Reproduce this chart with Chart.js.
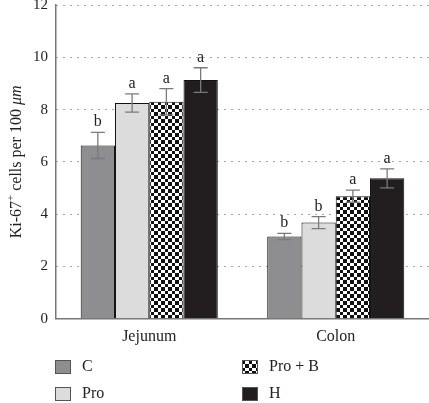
<!DOCTYPE html>
<html>
<head>
<meta charset="utf-8">
<script src="https://cdn.jsdelivr.net/npm/chart.js@4/dist/chart.umd.min.js"></script>
<style>
  body { margin: 0; background: #fff; }
  #wrap { width: 429px; height: 403px; }
</style>
</head>
<body>
<div id="wrap"><canvas id="chart" width="429" height="403"></canvas></div>
<script>
// Data
const categories = ['Jejunum', 'Colon'];
const seriesNames = ['C', 'Pro', 'Pro + B', 'H'];
const yTicks = [0, 2, 4, 6, 8, 10, 12];

const cValues = [6.63, 3.15];
const proValues = [8.25, 3.68];
const proBValues = [8.3, 4.69];
const hValues = [9.13, 5.37];

const cErrors = [0.5, 0.12];
const proErrors = [0.35, 0.23];
const proBErrors = [0.5, 0.23];
const hErrors = [0.47, 0.36];

const cLetters = ['b', 'b'];
const proLetters = ['a', 'b'];
const proBLetters = ['a', 'a'];
const hLetters = ['a', 'a'];

const FONT = '"Liberation Serif", "DejaVu Serif", serif';

// checkerboard fill for Pro + B
function makeChecker() {
    const c = document.createElement('canvas');
    c.width = 7;
    c.height = 7;
    const g = c.getContext('2d');
    g.fillStyle = '#fff';
    g.fillRect(0, 0, 7, 7);
    g.fillStyle = '#111';
    g.fillRect(0, 0, 4, 4);
    g.fillRect(4, 4, 3, 3);
    return g.createPattern(c, 'repeat');
}

const ctx = document.getElementById('chart').getContext('2d');
const checker = makeChecker();

const COLORS = ['#8e8e90', '#dcdcdc', checker, '#221e1f'];
const values = [cValues, proValues, proBValues, hValues];
const errors = [cErrors, proErrors, proBErrors, hErrors];
const letters = [cLetters, proLetters, proBLetters, hLetters];

const datasets = seriesNames.map((name, i) => ({
    label: name,
    data: values[i],
    backgroundColor: COLORS[i],
    borderColor: '#111',
    borderWidth: 1,
    barPercentage: 1,
    categoryPercentage: 0.735
}));

// error bars + significance letters
const errorBars = {
    id: 'errorBars',
    afterDatasetsDraw(chart) {
        const g = chart.ctx;
        const y = chart.scales.y;
        g.save();
        chart.data.datasets.forEach((ds, i) => {
            const meta = chart.getDatasetMeta(i);
            meta.data.forEach((bar, j) => {
                const v = ds.data[j];
                const e = errors[i][j];
                const top = y.getPixelForValue(v + e);
                const bot = y.getPixelForValue(v - e);
                g.strokeStyle = '#7a7a7a';
                g.lineWidth = 1.3;
                g.beginPath();
                g.moveTo(bar.x, top);
                g.lineTo(bar.x, bot);
                g.moveTo(bar.x - 7, top);
                g.lineTo(bar.x + 7, top);
                g.moveTo(bar.x - 7, bot);
                g.lineTo(bar.x + 7, bot);
                g.stroke();
                g.fillStyle = '#222';
                g.font = '16px ' + FONT;
                g.textAlign = 'center';
                g.textBaseline = 'alphabetic';
                g.fillText(letters[i][j], bar.x, top - 6);
            });
        });
        g.restore();
    }
};

// y title with italic unit + 2x2 legend at the bottom
const extras = {
    id: 'extras',
    afterDraw(chart) {
        const g = chart.ctx;
        const area = chart.chartArea;
        g.save();
        // y axis title
        g.translate(17, (area.top + area.bottom) / 2);
        g.rotate(-Math.PI / 2);
        g.fillStyle = '#222';
        g.textBaseline = 'middle';
        const parts = [
            { t: 'Ki-67', f: '16px ' + FONT, dy: 0 },
            { t: '+', f: '11px ' + FONT, dy: -6 },
            { t: ' cells per 100 ', f: '16px ' + FONT, dy: 0 },
            { t: 'μm', f: 'italic 16px ' + FONT, dy: 0 }
        ];
        let total = 0;
        parts.forEach(p => { g.font = p.f; total += g.measureText(p.t).width; });
        let x = -total / 2;
        g.textAlign = 'left';
        parts.forEach(p => {
            g.font = p.f;
            g.fillText(p.t, x, p.dy);
            x += g.measureText(p.t).width;
        });
        g.restore();

        // legend
        g.save();
        const pos = [[55, 360], [55, 387], [242, 360], [242, 387]];
        g.font = '16px ' + FONT;
        g.textBaseline = 'middle';
        g.textAlign = 'left';
        seriesNames.forEach((name, k) => {
            const [lx, ly] = pos[k];
            g.fillStyle = COLORS[k];
            g.fillRect(lx, ly, 16, 14);
            g.strokeStyle = '#555';
            g.lineWidth = 1;
            g.strokeRect(lx + 0.5, ly + 0.5, 15, 13);
            g.fillStyle = '#222';
            g.fillText(name, lx + 27, ly + 7);
        });
        g.restore();
    }
};

new Chart(ctx, {
    type: 'bar',
    data: { labels: categories, datasets: datasets },
    options: {
        responsive: false,
        animation: false,
        layout: { padding: { left: 25, right: 0, top: 5, bottom: 57 } },
        plugins: {
            legend: { display: false },
            tooltip: { enabled: false }
        },
        scales: {
            x: {
                grid: { display: false },
                border: { color: '#777', width: 1.5 },
                ticks: { color: '#222', font: { family: FONT, size: 16 }, padding: 0 }
            },
            y: {
                min: 0,
                max: 12,
                afterBuildTicks(axis) { axis.ticks = yTicks.map(v => ({ value: v })); },
                afterFit(axis) { axis.paddingTop = 0; axis.paddingBottom = 0; },
                border: { color: '#777', width: 1.5, dash: [1, 6] },
                grid: {
                    drawTicks: false,
                    color: c => c.tick.value === 0 ? 'rgba(0,0,0,0)' : '#555',
                    lineWidth: 1
                },
                ticks: { color: '#222', font: { family: FONT, size: 15 }, padding: 8 }
            }
        }
    },
    plugins: [errorBars, extras]
});
</script>
</body>
</html>
